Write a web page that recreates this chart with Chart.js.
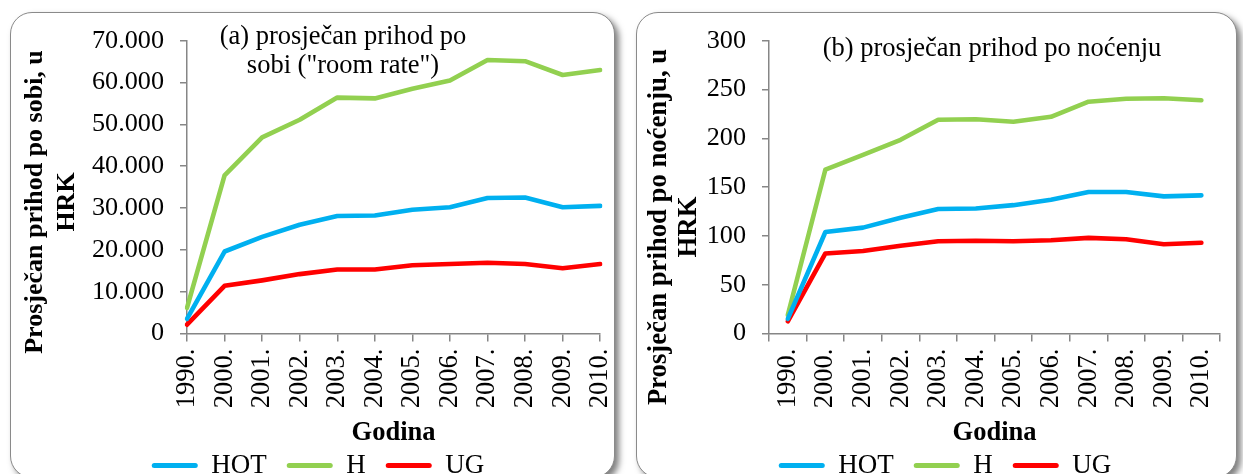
<!DOCTYPE html>
<html><head><meta charset="utf-8">
<script src="https://cdn.jsdelivr.net/npm/chart.js@4.4.1/dist/chart.umd.min.js"></script>
<style>
html,body{margin:0;padding:0;background:#fff;}
body{width:1243px;height:474px;overflow:hidden;position:relative;}
.panel{position:absolute;box-sizing:border-box;border:1.5px solid #8a8a8a;border-radius:22px;background:#fff;box-shadow:4px 4px 6px rgba(0,0,0,0.5);}
canvas{position:absolute;top:0;}
</style></head><body>
<div class="panel" style="left:10px;top:12px;width:605px;height:466px"></div>
<div class="panel" style="left:636px;top:12px;width:601px;height:466px"></div>
<canvas id="cA" width="639" height="489" style="left:0px"></canvas>
<canvas id="cB" width="615" height="489" style="left:626px"></canvas>
<script>
// ---- data ----
const years = ['1990.','2000.','2001.','2002.','2003.','2004.','2005.','2006.','2007.','2008.','2009.','2010.'];
const seriesNames = ['HOT','H','UG'];
const seriesColors = ['#00b0f0','#92d050','#ff0000'];

const hotRoom = [3500, 19600, 23100, 26000, 28100, 28200, 29600, 30200, 32400, 32500, 30200, 30500];
const hRoom   = [6100, 37800, 46900, 51100, 56400, 56200, 58500, 60500, 65400, 65100, 61800, 63000];
const ugRoom  = [2100, 11400, 12700, 14200, 15300, 15300, 16300, 16600, 16900, 16600, 15600, 16600];

const hotNight = [15, 104, 108.5, 118.5, 127.5, 128, 131.5, 137, 145, 145, 140.5, 141.5];
const hNight   = [19, 168, 183, 198.5, 219, 219.5, 217, 222, 237.5, 240.5, 241, 239];
const ugNight  = [12.5, 82, 84.5, 90, 94.5, 95, 94.5, 95.5, 98, 96.5, 91.5, 93];

const yTicksRoom  = ['0','10.000','20.000','30.000','40.000','50.000','60.000','70.000'];
const yTicksNight = ['0','50','100','150','200','250','300'];

const titleRoom  = ['(a) prosječan prihod po', 'sobi ("room rate")'];
const titleNight = ['(b) prosječan prihod po noćenju'];
const yTitleRoom  = ['Prosječan prihod po sobi, u', 'HRK'];
const yTitleNight = ['Prosječan prihod po noćenju, u', 'HRK'];
const xTitle = 'Godina';

// ---- rendering ----
Chart.defaults.font.family = "'Liberation Serif', 'Times New Roman', serif";
Chart.defaults.color = '#000';

const freeText = {
  id: 'freeText',
  afterDraw(chart, args, opts) {
    const {ctx, chartArea} = chart;
    (opts.items || []).forEach(it => {
      ctx.save();
      ctx.font = it.font;
      ctx.fillStyle = '#000';
      ctx.textAlign = 'center';
      ctx.textBaseline = 'alphabetic';
      ctx.translate(chartArea.left + it.dx, chartArea.top + it.dy);
      if (it.rotate) ctx.rotate(-Math.PI / 2);
      it.lines.forEach((ln, i) => ctx.fillText(ln, 0, i * it.gap));
      ctx.restore();
    });
  }
};

const AXIS = '#868686';

function makeChart(id, values, tickLabels, yMax, yStep, offset, padLeft, yWidth, texts) {
  const datasets = values.map((v, i) => ({
    label: seriesNames[i],
    data: v,
    borderColor: seriesColors[i],
    backgroundColor: seriesColors[i],
    borderWidth: 4.6,
    pointRadius: 0,
    tension: 0,
    borderJoinStyle: 'round',
    borderCapStyle: 'round'
  }));
  return new Chart(document.getElementById(id), {
    type: 'line',
    data: { labels: years, datasets },
    plugins: [freeText],
    options: {
      responsive: false,
      animation: false,
      devicePixelRatio: 1,
      layout: { padding: { left: padLeft, right: 20, top: 40.7, bottom: 0 } },
      plugins: {
        tooltip: { enabled: false },
        legend: {
          position: 'bottom',
          labels: {
            font: { size: 27 },
            color: '#000',
            boxWidth: 46,
            boxHeight: 5,
            padding: 20,
            generateLabels(chart) {
              return chart.data.datasets.map((d, i) => ({
                text: d.label, fillStyle: d.borderColor, strokeStyle: d.borderColor,
                lineWidth: 0, hidden: false, datasetIndex: i, borderRadius: 2.5
              }));
            }
          }
        },
        freeText: { items: texts }
      },
      scales: {
        x: {
          offset: offset,
          grid: { display: true, offset: offset, drawOnChartArea: false, drawTicks: true, tickLength: 8, color: AXIS, lineWidth: 1.5 },
          border: { display: true, color: AXIS, width: 1.5 },
          ticks: { font: { size: 26.5 }, color: '#000', maxRotation: 90, minRotation: 90, padding: 7, autoSkip: false },
          title: { display: true, text: xTitle, font: { size: 26.5, weight: 'bold' }, color: '#000', padding: { top: 0, bottom: -17 } },
          afterFit(scale) { scale.height = 98.5; }
        },
        y: {
          min: 0, max: yMax,
          grid: { display: true, drawOnChartArea: false, drawTicks: true, tickLength: 7, color: AXIS, lineWidth: 1.5 },
          border: { display: true, color: AXIS, width: 1.5 },
          ticks: {
            stepSize: yStep, font: { size: 26.2 }, color: '#000', padding: 16,
            callback: (v) => tickLabels[Math.round(v / yStep)]
          },
          afterFit(scale) { scale.width = yWidth; }
        }
      }
    }
  });
}

makeChart('cA', [hotRoom, hRoom, ugRoom], yTicksRoom, 70000, 10000, false, 17, 170, [
  { lines: yTitleRoom, font: "bold 26px 'Liberation Serif'", rotate: true, dx: -145, dy: 161.3, gap: 32 },
  { lines: titleRoom, font: "26.5px 'Liberation Serif'", rotate: false, dx: 156, dy: 3.3, gap: 29 }
]);
makeChart('cB', [hotNight, hNight, ugNight], yTicksNight, 300, 50, true, 43, 100, [
  { lines: yTitleNight, font: "bold 26.7px 'Liberation Serif'", rotate: true, dx: -103.5, dy: 186.3, gap: 30.5 },
  { lines: titleNight, font: "26.5px 'Liberation Serif'", rotate: false, dx: 223, dy: 15.3, gap: 29 }
]);
</script>
</body></html>
